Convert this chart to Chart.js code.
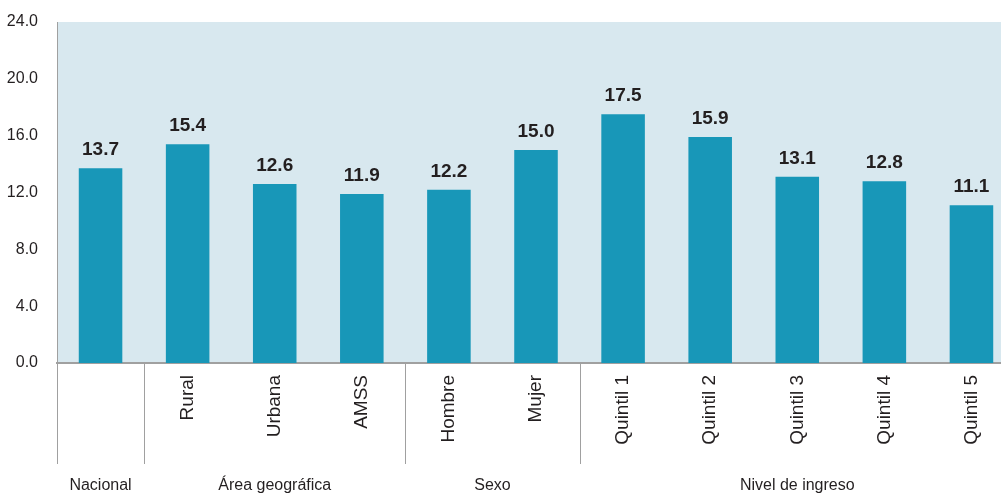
<!DOCTYPE html>
<html>
<head>
<meta charset="utf-8">
<script src="https://cdn.jsdelivr.net/npm/chart.js@4.4.0/dist/chart.umd.min.js"></script>
<style>
  html, body { margin: 0; padding: 0; background: #fff; overflow: hidden; }
  #wrap { width: 1015px; height: 493px; }
</style>
</head>
<body>
<div id="wrap"><canvas id="chart"></canvas></div>
<script>
// data
var categories = ['Nacional', 'Rural', 'Urbana', 'AMSS', 'Hombre', 'Mujer',
  'Quintil 1', 'Quintil 2', 'Quintil 3', 'Quintil 4', 'Quintil 5'];
var values = [13.7, 15.4, 12.6, 11.9, 12.2, 15.0, 17.5, 15.9, 13.1, 12.8, 11.1];
var groupNames = ['Nacional', 'Área geográfica', 'Sexo', 'Nivel de ingreso'];
var groupSizes = [1, 3, 2, 5];
var yTicks = [0, 4, 8, 12, 16, 20, 24];

const BAR_COLOR = '#1897b8';
const PLOT_BG = '#d8e8ef';
const AXIS_COLOR = '#a0a0a0';
const TEXT_COLOR = '#231f20';
const FONT = 'Liberation Sans, Arial, sans-serif';

// light blue plot background
var plotBg = {
  id: 'plotBg',
  beforeDraw(chart) {
    let a = chart.chartArea, ctx = chart.ctx;
    ctx.save();
    ctx.fillStyle = PLOT_BG;
    ctx.fillRect(a.left, a.top, a.right - a.left, a.bottom - a.top);
    ctx.restore();
  }
};

// value labels over bars
var barLabels = {
  id: 'barLabels',
  afterDatasetsDraw(chart) {
    let ctx = chart.ctx;
    let meta = chart.getDatasetMeta(0);
    ctx.save();
    ctx.font = 'bold 19px ' + FONT;
    ctx.fillStyle = TEXT_COLOR;
    ctx.textAlign = 'center';
    ctx.textBaseline = 'alphabetic';
    meta.data.forEach(function(bar, i) {
      ctx.fillText(values[i].toFixed(1), bar.x, bar.y - 13);
    });
    ctx.restore();
  }
};

// group separators and group names under the axis
var groups = {
  id: 'groups',
  afterDraw(chart) {
    let ctx = chart.ctx, x = chart.scales.x, a = chart.chartArea;
    let half = (x.getPixelForValue(1) - x.getPixelForValue(0)) / 2;
    ctx.save();
    ctx.strokeStyle = AXIS_COLOR;
    ctx.lineWidth = 1;
    ctx.font = '16px ' + FONT;
    ctx.fillStyle = TEXT_COLOR;
    ctx.textAlign = 'center';
    ctx.textBaseline = 'alphabetic';
    let start = 0;
    groupSizes.forEach(function(n, g) {
      let left = x.getPixelForValue(start) - half;
      let right = x.getPixelForValue(start + n - 1) + half;
      ctx.beginPath();
      ctx.moveTo(Math.round(left) + 0.5, a.bottom);
      ctx.lineTo(Math.round(left) + 0.5, a.bottom + 101);
      ctx.stroke();
      ctx.fillText(groupNames[g], (left + right) / 2, a.bottom + 127);
      start += n;
    });
    ctx.restore();
  }
};

var chart = new Chart(document.getElementById('chart'), {
  type: 'bar',
  data: {
    labels: categories,
    datasets: [{
      data: values,
      backgroundColor: BAR_COLOR,
      barPercentage: 0.5,
      categoryPercentage: 1.0
    }]
  },
  options: {
    responsive: true,
    maintainAspectRatio: false,
    animation: false,
    layout: { padding: { top: 22, right: 0, left: 0, bottom: 0 } },
    plugins: { legend: { display: false }, tooltip: { enabled: false } },
    scales: {
      x: {
        grid: { display: false, drawTicks: false },
        border: { color: AXIS_COLOR, width: 2 },
        ticks: {
          color: TEXT_COLOR,
          font: { family: FONT, size: 19 },
          minRotation: 90,
          maxRotation: 90,
          padding: 12,
          autoSkip: false,
          // the single-bar group only gets its group name below
          callback: (v, i) => groupSizes[0] === 1 && i === 0 ? '' : categories[i]
        },
        afterFit(scale) { scale.height = 130; }
      },
      y: {
        min: 0,
        max: 24,
        afterBuildTicks(scale) { scale.ticks = yTicks.map(v => ({ value: v })); },
        grid: { display: false, drawTicks: false },
        border: { color: AXIS_COLOR, width: 1 },
        ticks: {
          color: TEXT_COLOR,
          font: { family: FONT, size: 16 },
          padding: 19,
          callback: v => v.toFixed(1)
        },
        afterFit(scale) {
          scale.width = 57;
          // tick padding should not push the plot top down
          scale.paddingTop = 0;
          scale.paddingBottom = 0;
        }
      }
    }
  },
  plugins: [plotBg, barLabels, groups]
});
</script>
</body>
</html>
